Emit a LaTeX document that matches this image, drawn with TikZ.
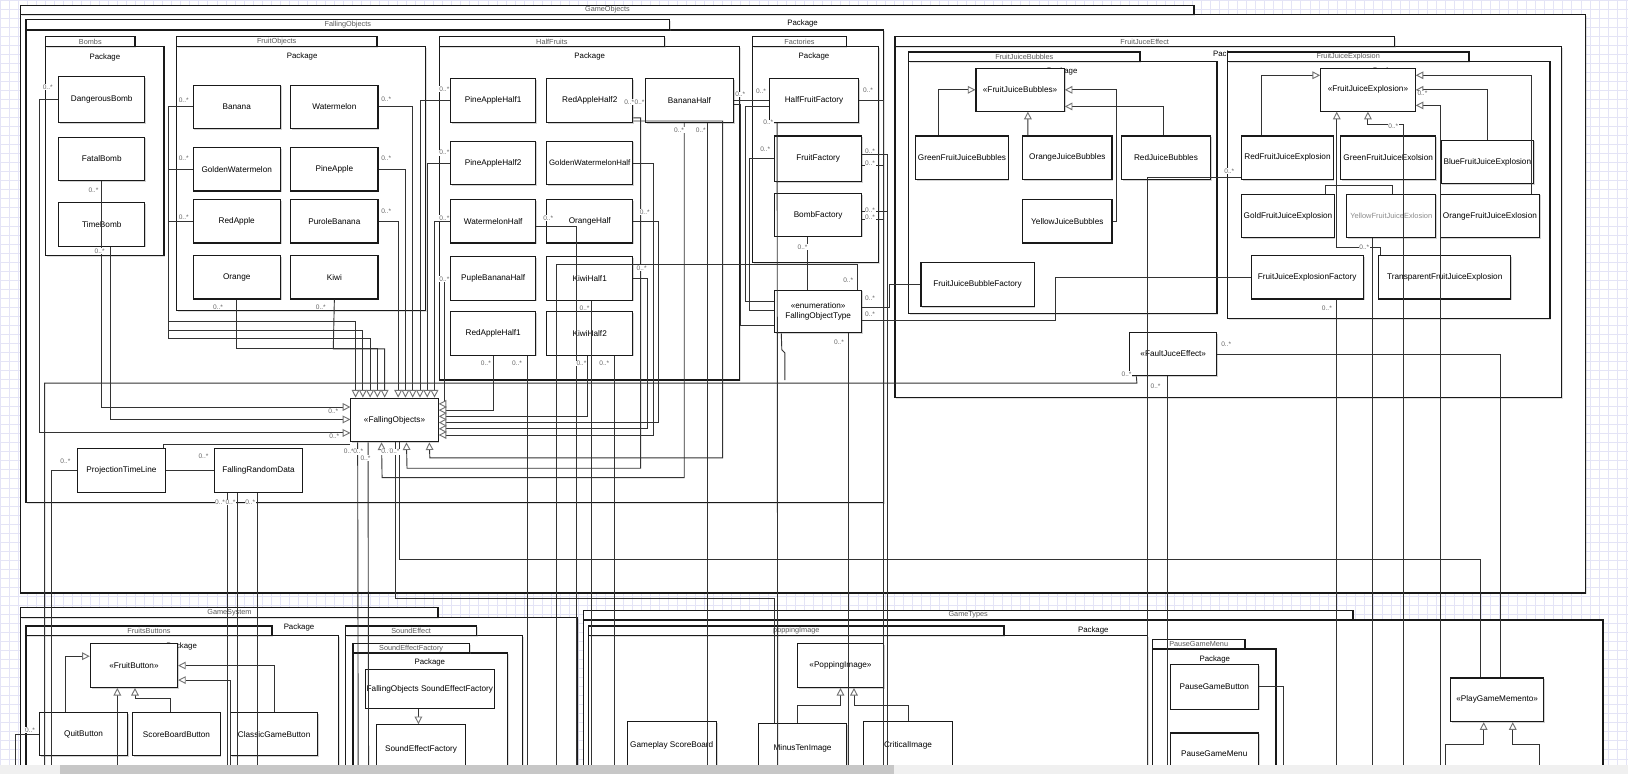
\documentclass[tikz,border=0pt]{standalone}
\usepackage{fontspec}
\setmainfont{Liberation Sans}
\usetikzlibrary{positioning,calc,arrows.meta,shadows}

\definecolor{gridc}{RGB}{228,228,246}

\tikzset{
  cls/.style={draw=black!90, line width=0.6pt, fill=white, minimum width=1.68cm, minimum height=0.84cm,
    inner sep=0pt, align=center, font=\fontsize{4.5}{5.4}\selectfont,
    drop shadow={shadow xshift=0.7pt, shadow yshift=-0.7pt, opacity=0.35}},
  pkg/.style={draw=black!90, line width=0.75pt, fill=white,
    drop shadow={shadow xshift=0.7pt, shadow yshift=-0.7pt, opacity=0.25}},
  pkgname/.style={font=\fontsize{4}{5}\selectfont, text=black!65, inner sep=0pt},
  pkgword/.style={font=\fontsize{4.3}{5}\selectfont, inner sep=0pt},
  conn/.style={draw=black!80, line width=0.5pt},
  gen/.style={conn, -{Triangle[fill=white, color=black!55, length=4.2pt, width=4.2pt]}},
  mult/.style={font=\fontsize{3.6}{4}\selectfont, text=black!60, fill=white, inner sep=0.3pt},
  gridline/.style={draw=gridc, line width=0.3pt}
}

\newcommand{\umlpkg}[8]{%
  \draw[pkg] (#3,#6) rectangle (#7,#8);
  \draw[pkg] (#3,#4) rectangle (#5,#6);
  \node[pkgname] (#1) at ({(#3+#5)/2},{(#4+#6)/2}) {#2};}

\begin{document}
\begin{tikzpicture}[x=0.02cm, y=-0.02cm]
\useasboundingbox (0,0) rectangle (1568,745);
\fill[white] (0,0) rectangle (1568,745);
\foreach \gx in {0,8.7,...,1568} \draw[gridline] (\gx,0) -- (\gx,745);
\foreach \gy in {0,8.7,...,745} \draw[gridline] (0,\gy) -- (1568,\gy);

\umlpkg{tabgo}{GameObjects}{20}{5}{1150}{14}{1527}{571}
\node[pkgword] (pkgo) at (773,23) {Package};
\umlpkg{tabfo}{FallingObjects}{25}{19}{645}{29}{851}{484}
\umlpkg{tabbombs}{Bombs}{44}{35}{130}{45}{158}{246}
\node[pkgword] (pkbombs) at (101,55) {Package};
\umlpkg{tabfruit}{FruitObjects}{170}{35}{363}{45}{410}{299}
\node[pkgword] (pkfruit) at (291,54) {Package};
\umlpkg{tabhalf}{HalfFruits}{423}{35}{640}{45}{712}{366}
\node[pkgword] (pkhalf) at (568,54) {Package};
\umlpkg{tabfact}{Factories}{725}{35}{815}{45}{846}{253}
\node[pkgword] (pkfact) at (784,54) {Package};
\umlpkg{tabjuice}{FruitJuceEffect}{862}{35}{1343}{45}{1504}{383}
\node[pkgword] (pkjuice) at (1183,52) {Package};
\umlpkg{tabbub}{FruitJuiceBubbles}{875}{50}{1098}{59}{1172}{302}
\node[pkgword] (pkbub) at (1023,69) {Package};
\umlpkg{tabexp}{FruitJuiceExplosion}{1182}{50}{1415}{59}{1493}{307}
\node[pkgword] (pkexp) at (1337,69) {Package};
\umlpkg{tabsys}{GameSystem}{20}{585}{422}{595}{556}{760}
\node[pkgword] (pksys) at (288,604) {Package};
\umlpkg{tabbtn}{FruitsButtons}{25}{603}{262}{612}{326}{760}
\node[pkgword] (pkbtn) at (175,623) {Package};
\umlpkg{tabsnd}{SoundEffect}{333}{603}{459}{612}{503}{760}
\umlpkg{tabsef}{SoundEffectFactory}{340}{620}{452}{629}{489}{760}
\node[pkgword] (pksef) at (414,638) {Package};
\umlpkg{tabtypes}{GameTypes}{562}{588}{1303}{597}{1544}{760}
\node[pkgword] (pktypes) at (1053,607) {Package};
\umlpkg{tabpop}{poppingImage}{567}{603}{967}{612}{1105}{760}
\umlpkg{tabpause}{PauseGameMenu}{1110}{616}{1199}{625}{1229}{760}
\node[pkgword] (pkpause) at (1170,635) {Package};

\node[cls, minimum width=1.66cm, minimum height=0.88cm] (dbomb) at (98,96) {DangerousBomb};
\node[cls, minimum width=1.66cm, below=0.26cm of dbomb] (fbomb) {FatalBomb};
\node[cls, minimum width=1.66cm, below=0.4cm of fbomb] (tbomb) {TimeBomb};
\node[cls] (banana) at (228,103) {Banana};
\node[cls, right=0.18cm of banana] (melon) {Watermelon};
\node[cls] (gmelon) at (228,163) {GoldenWatermelon};
\node[cls, right=0.18cm of gmelon] (pine) {PineApple};
\node[cls] (rapple) at (228,213) {RedApple};
\node[cls, right=0.18cm of rapple] (pbanana) {PuroleBanana};
\node[cls] (orange) at (228,267) {Orange};
\node[cls, right=0.18cm of orange] (kiwi) {Kiwi};
\node[cls, minimum width=1.64cm] (pine1) at (475,97) {PineAppleHalf1};
\node[cls, minimum width=1.66cm] (rapple2) at (568,97) {RedAppleHalf2};
\node[cls, minimum width=1.7cm] (bhalf) at (664,97) {BananaHalf};
\node[cls, minimum width=1.64cm] (pine2) at (475,157) {PineAppleHalf2};
\node[cls, minimum width=1.66cm, font=\fontsize{4.3}{5}\selectfont] (gmhalf) at (568,157) {GoldenWatermelonHalf};
\node[cls, minimum width=1.64cm] (mhalf) at (475,213) {WatermelonHalf};
\node[cls, minimum width=1.66cm] (ohalf) at (568,213) {OrangeHalf};
\node[cls, minimum width=1.64cm] (pbhalf) at (475,268) {PupleBananaHalf};
\node[cls, minimum width=1.66cm] (kiwi1) at (568,268) {KiwiHalf1};
\node[cls, minimum width=1.64cm] (rapple1) at (475,321) {RedAppleHalf1};
\node[cls, minimum width=1.66cm] (kiwi2) at (568,321) {KiwiHalf2};
\node[cls, minimum width=1.72cm] (hff) at (784,97) {HalfFruitFactory};
\node[cls, minimum height=0.88cm] (ff) at (788,153) {FruitFactory};
\node[cls, minimum height=0.82cm] (bf) at (788,207) {BombFactory};
\node[cls, minimum height=0.82cm] (fot) at (788,300) {«enumeration»\\FallingObjectType};
\node[cls] (fo) at (380,404.5) {«FallingObjects»};
\node[cls] (ptl) at (117,453) {ProjectionTimeLine};
\node[cls] (frd) at (249,453) {FallingRandomData};

\node[cls, minimum width=1.7cm, minimum height=0.82cm] (fjb) at (982.5,86.5) {«FruitJuiceBubbles»};
\node[cls, minimum width=1.78cm] (gfjb) at (926.5,152) {GreenFruitJuiceBubbles};
\node[cls, minimum width=1.72cm] (ojb) at (1028,152) {OrangeJuiceBubbles};
\node[cls, minimum width=1.72cm] (rjb) at (1123,152) {RedJuiceBubbles};
\node[cls, minimum width=1.72cm] (yjb) at (1028,213) {YellowJuiceBubbles};
\node[cls, minimum width=2.18cm] (fjbf) at (941.5,274) {FruitJuiceBubbleFactory};
\node[cls, minimum width=1.82cm, minimum height=0.82cm] (fjx) at (1317.5,86.5) {«FruitJuiceExplosion»};
\node[cls, minimum width=1.76cm] (rfjx) at (1240,152) {RedFruitJuiceExplosion};
\node[cls, minimum width=1.84cm] (gfjx) at (1337,152) {GreenFruitJuiceExolsion};
\node[cls, minimum width=1.78cm] (bfjx) at (1432.5,156) {BlueFruitJuiceExplosion};
\node[cls, minimum width=1.78cm] (gdfjx) at (1240.5,208) {GoldFruitJuiceExplosion};
\node[cls, minimum width=1.72cm, text=black!45, font=\fontsize{4.1}{5}\selectfont] (yfjx) at (1340,208) {YellowFruitJuiceExlosion};
\node[cls, minimum width=1.92cm] (ofjx) at (1435,208) {OrangeFruitJuiceExlosion};
\node[cls, minimum width=2.16cm] (fjxf) at (1259,267) {FruitJuiceExplosionFactory};
\node[cls, minimum width=2.54cm] (tfjx) at (1391.5,267) {TransparentFruitJuiceExplosion};
\node[cls] (fje) at (1130,341) {«FaultJuceEffect»};

\node[cls] (fb) at (129,641) {«FruitButton»};
\node[cls, minimum width=1.7cm] (quit) at (80.5,707) {QuitButton};
\node[cls] (sbb) at (170,707) {ScoreBoardButton};
\node[cls] (cgb) at (264,707) {ClassicGameButton};
\node[cls, minimum width=2.48cm, minimum height=0.74cm] (fosef) at (414,663.5) {FallingObjects SoundEffectFactory};
\node[cls, minimum width=1.7cm, minimum height=0.94cm] (sef) at (405.5,721.5) {SoundEffectFactory};
\node[cls, minimum width=1.66cm] (pi) at (809.5,641) {«PoppingImage»};
\node[cls, minimum width=1.72cm, minimum height=0.9cm] (gsb) at (647,717.5) {Gameplay ScoreBoard};
\node[cls, minimum width=1.7cm, minimum height=0.96cm] (minus) at (773,721) {MinusTenImage};
\node[cls, minimum width=1.7cm, minimum height=0.9cm] (crit) at (874.5,717.5) {CriticalImage};
\node[cls, minimum width=1.7cm, minimum height=0.86cm] (pgb) at (1169.5,661.5) {PauseGameButton};
\node[cls, minimum width=1.7cm, minimum height=0.8cm] (pgmenu) at (1169.5,726) {PauseGameMenu};
\node[cls, minimum width=1.8cm] (pgm) at (1442,674) {«PlayGameMemento»};

\foreach \n/\x in {a/43, b/50, c/219, fa/229, fb/248, fc/345, fd/355, d/749, e/536, f/817, g/851, h/855,
    j/508, k/555, l/570, m/592, n/681, o/1105, p/1287, q/1322, r/1352, s/1387, t/1124,
    u/113, v/222, w/15, x/1236, y/1392, z/1483}
  \coordinate (low\n) at (\x,745);
\coordinate (stub) at (756,366);

\draw[gen] (banana.west) -| (162,310) -| ($(fo.north west)+(5,0)$);
\draw[gen] (gmelon.west) -| (162,318) -| ($(fo.north west)+(12,0)$);
\draw[gen] (rapple.west) -| (162,326) -| ($(fo.north west)+(19,0)$);
\draw[gen] (orange.south) -- (228,336) -| ($(fo.north west)+(26,0)$);
\draw[gen] (kiwi.south) -- (321,336) -| ($(fo.north west)+(33,0)$);
\draw[gen] (pbanana.east) -| ($(fo.north west)+(46,0)$);
\draw[gen] (pine.east) -| ($(fo.north west)+(53,0)$);
\draw[gen] (melon.east) -| ($(fo.north west)+(60,0)$);
\draw[gen] (pine1.west) -| ($(fo.north west)+(67,0)$);
\draw[gen] (pine2.west) -| ($(fo.north west)+(74,0)$);
\draw[gen] (mhalf.west) -| ($(fo.north west)+(81,0)$);
\draw[gen] (pbhalf.west) -- (428,268) |- ($(fo.north east)+(0,6)$);
\draw[gen] (rapple1.south) |- ($(fo.north east)+(0,12)$);
\draw[gen] ($(kiwi2.south)+(-2,0)$) |- ($(fo.north east)+(0,18)$);
\draw[gen] (ohalf.east) -- (634,213) |- ($(fo.north east)+(0,24)$);
\draw[gen] (kiwi1.east) -- (624,268) |- ($(fo.north east)+(0,30)$);
\draw[gen] (gmhalf.east) -- (629,157) |- ($(fo.north east)+(0,36)$);
\draw[gen] (fbomb.south) |- ($(fo.north west)+(0,9)$);
\draw[gen] ($(tbomb.south)+(8,0)$) |- ($(fo.north west)+(0,21)$);
\draw[gen] (dbomb.west) -- (38,96) |- ($(fo.north west)+(0,34)$);
\draw[gen] ($(rapple2.south east)+(0,-5)$) -- ++(7,0) |- (392,451) -- ($(fo.south west)+(54,0)$);
\draw[gen] ($(bhalf.south)+(-5,0)$) |- (368,460) -- ($(fo.south west)+(30,0)$);
\draw[gen] ($(rapple2.south east)+(0,-2)$) -- ++(86,0) |- (414,441) -- ($(fo.south west)+(76,0)$);
\draw[conn] ($(fo.south west)+(7,0)$) -- (lowfc);
\draw[conn] ($(fo.south west)+(17,0)$) -- (lowfd);
\draw[conn] ($(fo.south west)+(43,0)$) |- ($(minus.north west)+(16,-120)$) -- ($(minus.north west)+(16,0)$);
\draw[conn] ($(fo.south west)+(47,0)$) |- ($(pgm.north)+(-16,-114)$) -- ($(pgm.north)+(-16,0)$);

\draw[conn] (ptl.east) -- (frd.west);
\draw[conn] ($(ptl.north east)+(-2,0)$) |- ($(fo.south west)+(0,2)$);
\draw[conn] (ptl.west) -| (lowb);
\draw[conn] ($(frd.south)+(-30,0)$) -- (lowc);
\draw[conn] ($(frd.south)+(-20,0)$) -- (lowfa);
\draw[conn] ($(frd.south)+(-1,0)$) -- (lowfb);
\draw[conn] (lowa) |- (1095,369) -- ($(fje.south west)+(7,0)$);

\draw[conn] (bhalf.east) -- (hff.west);
\draw[conn] ($(bhalf.east)+(0,4)$) -- (713,101) |- ($(fot.north west)+(0,34)$);
\draw[conn] ($(hff.west)+(0,6)$) -- (718,103) |- ($(fot.north west)+(0,11)$);
\draw[conn] (ff.west) -- (722,153) |- ($(fot.north west)+(0,20)$);
\draw[conn] ($(bf.south)+(-10,0)$) -- ($(fot.north)+(-10,0)$);
\draw[conn] ($(hff.south west)+(8,0)$) -- (lowd);
\draw[conn] ($(fot.north east)+(-5,0)$) |- (536,255) -- (lowe);
\draw[conn] ($(fot.south)+(29,0)$) -- (lowf);
\draw[conn] ($(fot.south west)+(7,0)$) -- (753,337) -- (756,340) -- (stub);
\draw[conn] ($(fot.east)+(0,-4)$) -- (857,296) |- (fjbf.west);
\draw[conn] ($(fot.east)+(0,9)$) -- (1017,309) |- (fjxf.west);
\draw[conn] (hff.east) -| (lowg);
\draw[conn] ($(ff.east)+(0,-4)$) -| (lowh);
\draw[conn] ($(ff.east)+(0,6)$) -| (lowg);
\draw[conn] ($(bf.east)+(0,-3)$) -| (lowh);
\draw[conn] ($(bf.east)+(0,4)$) -| (lowg);
\draw[conn] ($(rapple1.south)+(33,0)$) -- (lowj);
\draw[conn] ($(mhalf.east)+(0,5)$) -| (lowk);
\draw[conn] ($(kiwi1.south)+(2,0)$) -- (lowl);
\draw[conn] ($(kiwi2.south)+(24,0)$) -- (lowm);
\draw[conn] ($(bhalf.south)+(17,0)$) -- (lown);

\draw[gen] ($(gfjb.north)+(-23,0)$) |- (fjb.west);
\draw[gen] ($(ojb.north)+(-38,0)$) -- ($(fjb.south)+(7.5,0)$);
\draw[gen] (yjb.east) -- (1075,213) |- (fjb.east);
\draw[gen] ($(rjb.north)+(-2,0)$) |- ($(fjb.east)+(0,16)$);
\draw[gen] ($(rfjx.north)+(-25,0)$) |- ($(fjx.west)+(0,-14)$);
\draw[gen] ($(gdfjx.north)+(36,0)$) |- ($(fjx.south)+(-30,71)$) -- ($(fjx.south)+(-30,0)$);
\draw[conn] ($(yfjx.north)+(1,0)$) |- ($(fjx.south)+(-30,71)$);
\draw[conn] ($(tfjx.north)+(-62,0)$) |- ($(fjx.south)+(-30,131)$) -- ($(fjx.south)+(-30,71)$);
\draw[gen] (lowr) |- ($(fjx.south)+(0,12)$) -- (fjx.south);
\draw[gen] (bfjx.north) |- (fjx.east);
\draw[gen] ($(ofjx.north)+(40,0)$) |- ($(fjx.east)+(0,-14)$);
\draw[gen] (lows) |- ($(fjx.east)+(0,15)$);
\draw[conn] (lowo) |- ($(rfjx.south west)+(0,-3)$);
\draw[conn] ($(fjxf.south)+(28,0)$) -- (lowp);
\draw[conn] ($(yfjx.south)+(-18,0)$) -- (lowq);
\draw[conn] (fje.east) -| ($(pgm.north)+(3,0)$);
\draw[conn] ($(fje.south)+(-6,0)$) -- (lowt);

\draw[gen] ($(quit.north)+(-17,0)$) |- ($(fb.west)+(0,-9)$);
\draw[gen] ($(sbb.north)+(-6,0)$) |- ($(fb.south)+(1,10)$) -- ($(fb.south)+(1,0)$);
\draw[gen] (lowu) -- ($(fb.south)+(-16,0)$);
\draw[gen] (cgb.north) |- (fb.east);
\draw[gen] (lowv) |- ($(fb.east)+(0,14)$);
\draw[conn] (quit.west) -| (loww);
\draw[gen] ($(fosef.south)+(-11,0)$) -- ($(sef.north)+(-2.5,0)$);
\draw[gen] ($(minus.north)+(-5,0)$) |- ($(pi.south)+(0,17)$) -- (pi.south);
\draw[gen] (crit.north) |- ($(pi.south)+(13,17)$) -- ($(pi.south)+(13,0)$);
\draw[conn] (pgb.east) -| (lowx);
\draw[gen] (lowy) |- ($(pgm.south)+(-13,21)$) -- ($(pgm.south)+(-13,0)$);
\draw[gen] (lowz) |- ($(pgm.south)+(15,21)$) -- ($(pgm.south)+(15,0)$);

\foreach \mx/\my [count=\i] in {46/84, 90/183, 96/242, 177/97, 177/152, 177/209, 372/96, 372/152, 372/203,
    210/296, 309/296, 428/86, 428/147, 428/210, 428/269, 468/350, 498/350, 560/350, 582/350, 563/297,
    528/210, 606/98, 616/98, 621/204, 618/258, 654/125, 675/125, 713/91, 733/88, 740/118, 737/144,
    836/87, 838/146, 838/157, 838/202, 838/209, 773/238, 817/270, 838/287, 838/303, 808/330,
    321/396, 322/420, 336/435, 345/435, 352/441, 372/435, 380/435, 63/444, 196/439, 212/484,
    222/484, 241/484, 1184/165, 1342/122, 1370/90, 1314/238, 1278/297, 1181/332, 1085/360,
    1113/372, 29/703}
  \node[mult] (m\i) at (\mx,\my) {0..*};

\fill[black!6] (0,737) rectangle (1568,745);
\fill[black!22] (58,737) rectangle (861,745);
\end{tikzpicture}
\end{document}
